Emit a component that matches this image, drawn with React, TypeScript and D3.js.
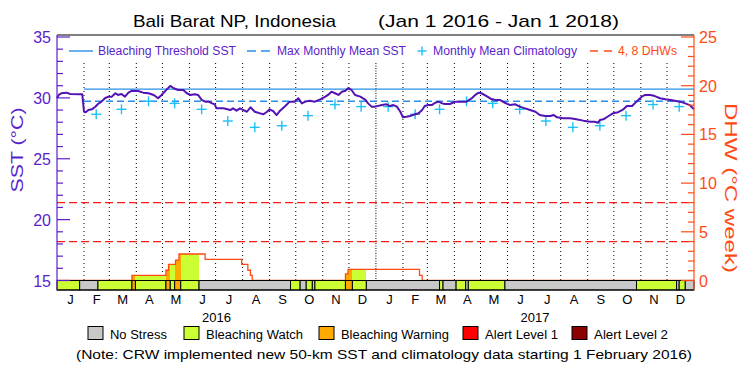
import React from "react";
import * as d3 from "d3";

// ---- data ----
// days since Jan 1 2016 and daily SST (°C)
const sstDay = [0, 2, 5, 11, 15, 26, 29, 31, 33, 36, 40, 44, 47, 51, 55, 59, 63, 67, 70, 74, 78, 82, 86, 93, 99, 105, 111, 116, 120, 126, 130, 134, 139, 145, 149, 153, 158, 162, 166, 170, 174, 178, 181, 183, 191, 199, 202, 206, 210, 214, 218, 222, 227, 233, 237, 241, 244, 248, 252, 256, 262, 267, 273, 277, 281, 285, 290, 296, 302, 308, 311, 315, 319, 323, 327, 331, 334, 338, 342, 348, 354, 357, 361, 365, 373, 378, 382, 386, 390, 394, 397, 401, 405, 411, 415, 419, 422, 426, 430, 434, 438, 442, 445, 451, 457, 463, 470, 476, 480, 484, 487, 493, 499, 503, 508, 514, 520, 526, 531, 537, 543, 549, 554, 560, 566, 570, 574, 581, 589, 596, 604, 612, 617, 621, 623, 627, 633, 638, 644, 650, 654, 660, 663, 667, 671, 675, 681, 686, 692, 698, 704, 709, 715, 721, 726, 731];
const sstValue = [29.97, 30.24, 30.38, 30.43, 30.32, 30.29, 30.29, 28.86, 28.82, 29.0, 29.06, 29.27, 29.5, 29.69, 29.97, 30.1, 30.1, 30.38, 30.24, 30.32, 30.1, 30.43, 30.59, 30.56, 30.43, 30.38, 30.24, 29.97, 30.24, 30.7, 30.98, 30.79, 30.65, 30.65, 30.38, 30.24, 30.29, 30.24, 29.83, 29.69, 29.69, 29.55, 29.47, 29.14, 29.14, 29.0, 29.14, 28.95, 29.14, 29.0, 28.86, 29.23, 28.86, 28.73, 28.65, 28.86, 29.06, 28.92, 28.59, 28.95, 29.33, 29.69, 29.69, 29.97, 29.55, 29.69, 29.77, 29.69, 29.88, 30.1, 30.24, 30.51, 30.38, 30.24, 30.51, 30.59, 30.79, 30.65, 30.24, 30.1, 29.83, 29.55, 29.28, 29.28, 29.41, 29.47, 29.33, 29.41, 29.28, 28.86, 28.4, 28.45, 28.51, 28.65, 28.73, 29.0, 29.33, 29.41, 29.41, 29.6, 29.69, 29.55, 29.5, 29.5, 29.69, 29.69, 29.69, 29.97, 30.24, 30.43, 30.38, 30.15, 29.88, 29.83, 29.83, 29.6, 29.41, 29.47, 29.28, 29.14, 29.0, 28.86, 28.59, 28.51, 28.51, 28.59, 28.4, 28.32, 28.32, 28.24, 28.13, 28.04, 28.04, 27.96, 28.18, 28.24, 28.51, 28.73, 28.82, 29.06, 29.33, 29.33, 29.55, 29.83, 30.1, 30.24, 30.24, 30.15, 29.97, 29.88, 29.83, 29.77, 29.69, 29.55, 29.41, 29.06];

// monthly mean climatology, Jan..Dec
const climatology = [29.28, 28.65, 29.06, 29.72, 29.55, 29.06, 28.1, 27.58, 27.71, 28.54, 29.45, 29.28];
const MMM = 29.72;
const dhwLevels = [4, 8];

// degree heating weeks, step series (days since Jan 1 2016)
const dhwDay = [0, 86, 125, 128, 136, 140, 170, 212, 219, 222, 224, 331, 334, 416, 419, 731];
const dhwValue = [0, 0.53, 1.05, 1.66, 2.1, 2.72, 2.17, 1.66, 1.05, 0.53, 0, 0.67, 1.15, 0.53, 0, 0];

// daily stress level segments: 0 none, 1 watch, 2 warning
const stressStart = [0, 26, 47, 86, 90, 125, 130, 135, 142, 163, 268, 279, 286, 293, 296, 331, 339, 355, 439, 443, 458, 469, 472, 514, 665, 711, 714, 721];
const stressLevel = [1, 0, 1, 2, 1, 2, 1, 2, 1, 0, 1, 0, 1, 0, 1, 2, 1, 0, 1, 0, 1, 0, 1, 0, 1, 0, 1, 0];

const stressNames = ["No Stress", "Bleaching Watch", "Bleaching Warning", "Alert Level 1", "Alert Level 2"];
const stressColors = ["#c8c8c8", "#ccff33", "#ffaa00", "#ff0000", "#8b0000"];

const sstTicks = [15, 20, 25, 30, 35];
const dhwTicks = [0, 5, 10, 15, 20, 25];

const PURPLE = "#5b1ecc";
const ORANGE = "#ff4a14";
const BLUE = "#2a8ee6";
const CYAN = "#1ec0f5";
const FONT = "'Liberation Sans', Arial, sans-serif";

const START = new Date(Date.UTC(2016, 0, 1));
const END = new Date(Date.UTC(2018, 0, 1));
const dayDate = (n: number) => d3.utcDay.offset(START, n);
const TOTAL = d3.utcDay.count(START, END);

const x = d3.scaleUtc().domain([START, END]).range([57, 694]);
const ySST = d3.scaleLinear().domain([15, 35]).range([280.5, 37]);
const yDHW = d3.scaleLinear().domain([0, 25]).range([280.5, 37]);
const PLOT_TOP = 35;
const PLOT_BOTTOM = 290;

const dhwAt = (d: number) => {
  let v = 0;
  for (let i = 0; i < dhwDay.length; i++) if (dhwDay[i] <= d) v = dhwValue[i];
  return v;
};
const stressAt = (d: number) => {
  let v = 0;
  for (let i = 0; i < stressStart.length; i++) if (stressStart[i] <= d) v = stressLevel[i];
  return v;
};

const App = () => {
  const sstLine = d3
    .line<number>()
    .x((d, i) => x(dayDate(sstDay[i])))
    .y((d) => ySST(d));

  const dhwLine = d3
    .line<number>()
    .curve(d3.curveStepAfter)
    .x((d, i) => x(dayDate(dhwDay[i])))
    .y((d) => yDHW(d));

  // runs of days with stress > 0 under the DHW curve
  const fills: { a: number; b: number; lvl: number; v: number }[] = [];
  for (let d = 0; d < TOTAL; d++) {
    const lvl = stressAt(d);
    const v = dhwAt(d);
    if (lvl === 0 || v === 0) continue;
    const last = fills[fills.length - 1];
    if (last && last.b === d && last.lvl === lvl && last.v === v) last.b = d + 1;
    else fills.push({ a: d, b: d + 1, lvl, v });
  }

  const months = d3.utcMonth.range(START, END);
  const climPoints = months.slice(1).map((m) => ({
    date: d3.utcDay.offset(m, 14),
    value: climatology[m.getUTCMonth()],
  }));

  const minorSST = d3.range(15, 35.01, 1);
  const minorDHW = d3.range(0, 25.01, 1);
  const feb1 = x(d3.utcMonth.offset(START, 1));

  const plus = (cx: number, cy: number, r: number, key?: any) => (
    <g key={key} stroke={CYAN} strokeWidth={1.4}>
      <line x1={cx - r} x2={cx + r} y1={cy} y2={cy} />
      <line x1={cx} x2={cx} y1={cy - r} y2={cy + r} />
    </g>
  );

  return (
    <div style={{ position: "absolute", left: 0, top: 0 }}>
      <svg width={750} height={375} style={{ display: "block", background: "#fff" }} fontFamily={FONT}>
        {/* title */}
        <text x={133} y={27} fontSize={17} textLength={203} lengthAdjust="spacingAndGlyphs">
          Bali Barat NP, Indonesia
        </text>
        <text x={378} y={27} fontSize={17} textLength={241} lengthAdjust="spacingAndGlyphs">
          (Jan 1 2016 - Jan 1 2018)
        </text>

        {/* month grid */}
        {months.slice(1).map((m, i) => (
          <line
            key={i}
            x1={x(m)}
            x2={x(m)}
            y1={63}
            y2={280}
            stroke="#000"
            strokeWidth={1}
            strokeDasharray={m.getUTCMonth() === 0 ? "1,1.5" : "1,3"}
          />
        ))}

        {/* DHW reference lines */}
        {dhwLevels.map((v) => (
          <line key={v} x1={57} x2={694} y1={yDHW(v)} y2={yDHW(v)} stroke="#ff1a1a" strokeWidth={1.3} strokeDasharray="8,4" />
        ))}

        {/* DHW fill by stress level */}
        {fills.map((f, i) => (
          <rect
            key={i}
            x={x(dayDate(f.a))}
            width={x(dayDate(f.b)) - x(dayDate(f.a))}
            y={yDHW(f.v)}
            height={yDHW(0) - yDHW(f.v)}
            fill={stressColors[f.lvl]}
            shapeRendering="crispEdges"
          />
        ))}
        <path d={dhwLine(dhwValue) || ""} fill="none" stroke={ORANGE} strokeWidth={1.3} />

        {/* thresholds */}
        <line x1={feb1} x2={694} y1={ySST(MMM + 1)} y2={ySST(MMM + 1)} stroke={BLUE} strokeWidth={1.4} />
        <line x1={feb1} x2={694} y1={ySST(MMM)} y2={ySST(MMM)} stroke={BLUE} strokeWidth={1.4} strokeDasharray="7,4" />

        {/* climatology */}
        {climPoints.map((p, i) => plus(x(p.date), ySST(p.value), 5, i))}

        {/* SST */}
        <path d={sstLine(sstValue) || ""} fill="none" stroke="#5312b4" strokeWidth={2} strokeLinejoin="round" />

        {/* stress bar */}
        {stressStart.map((s, i) => {
          const e = i + 1 < stressStart.length ? stressStart[i + 1] : TOTAL;
          return (
            <rect
              key={i}
              x={x(dayDate(s))}
              width={x(dayDate(e)) - x(dayDate(s))}
              y={280.5}
              height={PLOT_BOTTOM - 280.5}
              fill={stressColors[stressLevel[i]]}
              stroke="#000"
              strokeWidth={1}
            />
          );
        })}

        {/* frame */}
        <line x1={57} x2={694} y1={PLOT_TOP} y2={PLOT_TOP} stroke="#000" strokeWidth={1.2} />
        <line x1={57} x2={694} y1={PLOT_BOTTOM} y2={PLOT_BOTTOM} stroke="#000" strokeWidth={1.2} />
        <line x1={57} x2={57} y1={PLOT_TOP} y2={PLOT_BOTTOM} stroke={PURPLE} strokeWidth={1.2} />
        <line x1={694} x2={694} y1={PLOT_TOP} y2={PLOT_BOTTOM} stroke={ORANGE} strokeWidth={1.2} />

        {/* left axis */}
        {minorSST.map((v) => (
          <line key={v} x1={57} x2={sstTicks.includes(v) ? 70 : 63} y1={ySST(v)} y2={ySST(v)} stroke={PURPLE} strokeWidth={1.2} />
        ))}
        {sstTicks.map((v) => (
          <text key={v} x={51} y={ySST(v) + 6} fontSize={16} fill={PURPLE} textAnchor="end">
            {v}
          </text>
        ))}
        <text
          transform="translate(23,150) rotate(-90)"
          fontSize={16}
          fill={PURPLE}
          textAnchor="middle"
          textLength={85}
          lengthAdjust="spacingAndGlyphs"
        >
          SST (°C)
        </text>

        {/* right axis */}
        {minorDHW.map((v) => (
          <line key={v} x1={694} x2={dhwTicks.includes(v) ? 681 : 688} y1={yDHW(v)} y2={yDHW(v)} stroke={ORANGE} strokeWidth={1.2} />
        ))}
        {dhwTicks.map((v) => (
          <text key={v} x={699} y={yDHW(v) + 6} fontSize={16} fill={ORANGE}>
            {v}
          </text>
        ))}
        <text
          transform="translate(725,188) rotate(90)"
          fontSize={16}
          fill={ORANGE}
          textAnchor="middle"
          textLength={170}
          lengthAdjust="spacingAndGlyphs"
        >
          DHW (°C week)
        </text>

        {/* month + year labels */}
        {months.map((m, i) => {
          const next = d3.utcMonth.offset(m, 1);
          return (
            <text key={i} x={(x(m) + x(next)) / 2} y={304} fontSize={13} textAnchor="middle">
              {d3.utcFormat("%b")(m)[0]}
            </text>
          );
        })}
        {d3.utcYear.range(START, END).map((yr) => (
          <text key={yr.getUTCFullYear()} x={(x(yr) + x(d3.utcYear.offset(yr, 1))) / 2} y={322} fontSize={13} textAnchor="middle">
            {yr.getUTCFullYear()}
          </text>
        ))}

        {/* in-plot legend */}
        <line x1={69} x2={93} y1={51} y2={51} stroke={BLUE} strokeWidth={1.4} />
        <text x={98} y={55} fontSize={12} fill={PURPLE} textLength={138} lengthAdjust="spacingAndGlyphs">
          Bleaching Threshold SST
        </text>
        <line x1={247} x2={270} y1={51} y2={51} stroke={BLUE} strokeWidth={1.4} strokeDasharray="9,5" />
        <text x={277} y={55} fontSize={12} fill={PURPLE} textLength={129} lengthAdjust="spacingAndGlyphs">
          Max Monthly Mean SST
        </text>
        {plus(422, 51, 4.5)}
        <text x={433} y={55} fontSize={12} fill={PURPLE} textLength={144} lengthAdjust="spacingAndGlyphs">
          Monthly Mean Climatology
        </text>
        <line x1={590} x2={612} y1={51} y2={51} stroke={ORANGE} strokeWidth={1.4} strokeDasharray="8,6" />
        <text x={618} y={55} fontSize={12} fill={ORANGE} textLength={59} lengthAdjust="spacingAndGlyphs">
          4, 8 DHWs
        </text>

        {/* stress legend */}
        {stressNames.map((n, i) => {
          const bx = [88, 184, 319, 463, 572][i];
          const tl = [57, 97, 108, 73, 74][i];
          return (
            <g key={n}>
              <rect x={bx} y={326.5} width={15} height={13} fill={stressColors[i]} stroke="#000" strokeWidth={1} />
              <text x={bx + 22} y={339} fontSize={12.5} textLength={tl} lengthAdjust="spacingAndGlyphs">
                {n}
              </text>
            </g>
          );
        })}
        <text x={76} y={359} fontSize={13} textLength={616} lengthAdjust="spacingAndGlyphs">
          (Note: CRW implemented new 50-km SST and climatology data starting 1 February 2016)
        </text>
      </svg>
    </div>
  );
};

export default App;
